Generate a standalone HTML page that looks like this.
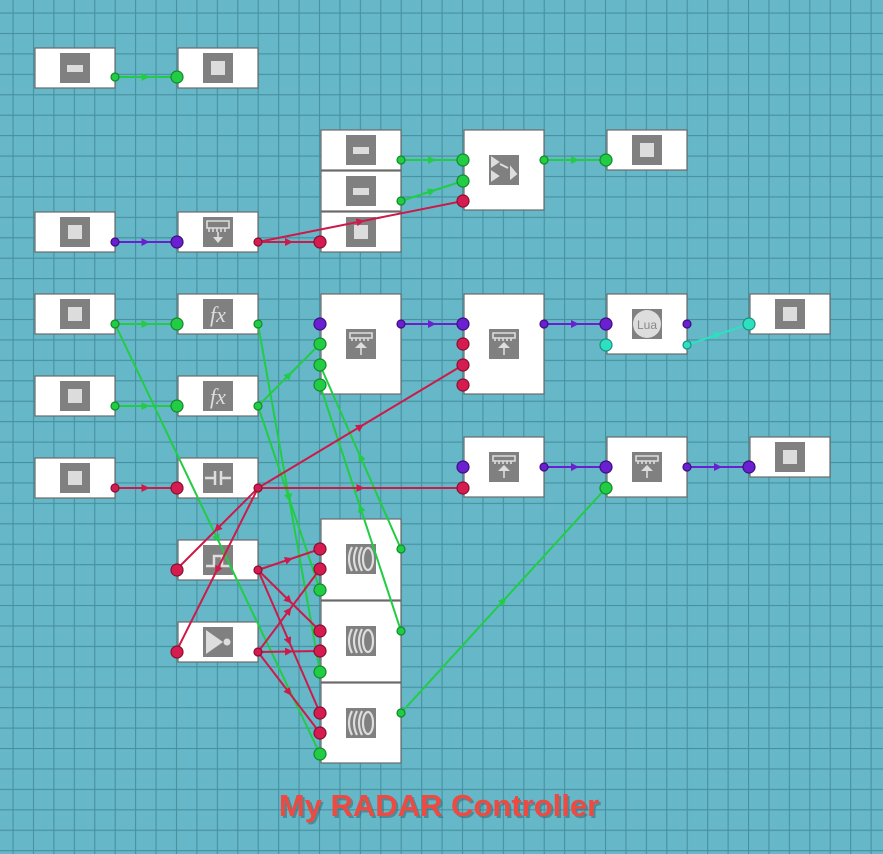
<!DOCTYPE html>
<html><head><meta charset="utf-8"><style>
html,body{margin:0;padding:0;width:883px;height:854px;overflow:hidden;background:#66b6c6}
svg{display:block}
.b{fill:#fff;stroke:#6a6a6a;stroke-width:1.2}
.ic{fill:#808080}
.lt{fill:#dcdcdc}
</style></head><body>
<svg width="883" height="854" xmlns="http://www.w3.org/2000/svg">
<defs>
<pattern id="g" x="12.5" y="12.5" width="20.43" height="20.43" patternUnits="userSpaceOnUse">
<path d="M0 0 H20.43 M0 0 V20.43" stroke="#4690a0" stroke-width="2.2" fill="none"/>
</pattern>
<marker id="mg" viewBox="0 0 10 10" refX="5" refY="5" markerWidth="4" markerHeight="4" orient="auto"><path d="M0 0 L10 5 L0 10z" fill="#22cc44"/></marker>
<marker id="mr" viewBox="0 0 10 10" refX="5" refY="5" markerWidth="4" markerHeight="4" orient="auto"><path d="M0 0 L10 5 L0 10z" fill="#cc1a4a"/></marker>
<marker id="mp" viewBox="0 0 10 10" refX="5" refY="5" markerWidth="4" markerHeight="4" orient="auto"><path d="M0 0 L10 5 L0 10z" fill="#6a1fd0"/></marker>
<marker id="mc" viewBox="0 0 10 10" refX="5" refY="5" markerWidth="4" markerHeight="4" orient="auto"><path d="M0 0 L10 5 L0 10z" fill="#2de0c0"/></marker>
</defs>
<rect width="883" height="854" fill="#66b8c8"/>
<rect width="883" height="854" fill="url(#g)"/>

<g>
<rect class="b" x="35" y="48" width="80" height="40"/>
<rect class="b" x="178" y="48" width="80" height="40"/>
<rect class="b" x="321" y="130" width="80" height="40"/>
<rect class="b" x="321" y="171" width="80" height="40"/>
<rect class="b" x="321" y="212" width="80" height="40"/>
<rect class="b" x="464" y="130" width="80" height="80"/>
<rect class="b" x="607" y="130" width="80" height="40"/>
<rect class="b" x="35" y="212" width="80" height="40"/>
<rect class="b" x="178" y="212" width="80" height="40"/>
<rect class="b" x="35" y="294" width="80" height="40"/>
<rect class="b" x="178" y="294" width="80" height="40"/>
<rect class="b" x="321" y="294" width="80" height="100"/>
<rect class="b" x="464" y="294" width="80" height="100"/>
<rect class="b" x="607" y="294" width="80" height="60"/>
<rect class="b" x="750" y="294" width="80" height="40"/>
<rect class="b" x="35" y="376" width="80" height="40"/>
<rect class="b" x="178" y="376" width="80" height="40"/>
<rect class="b" x="35" y="458" width="80" height="40"/>
<rect class="b" x="178" y="458" width="80" height="40"/>
<rect class="b" x="464" y="437" width="80" height="60"/>
<rect class="b" x="607" y="437" width="80" height="60"/>
<rect class="b" x="750" y="437" width="80" height="40"/>
<rect class="b" x="178" y="540" width="80" height="40"/>
<rect class="b" x="178" y="622" width="80" height="40"/>
<rect class="b" x="321" y="519" width="80" height="81"/>
<rect class="b" x="321" y="601" width="80" height="81"/>
<rect class="b" x="321" y="683" width="80" height="80"/>
</g>

<g>
<rect class="ic" x="60" y="53" width="30" height="30"/><rect class="lt" x="67" y="65" width="16" height="7"/>
<rect class="ic" x="346" y="135" width="30" height="30"/><rect class="lt" x="353" y="147" width="16" height="7"/>
<rect class="ic" x="346" y="176" width="30" height="30"/><rect class="lt" x="353" y="188" width="16" height="7"/>
<rect class="ic" x="203" y="53" width="30" height="30"/><rect class="lt" x="211" y="61" width="14" height="14"/>
<rect class="ic" x="346" y="217" width="30" height="30"/><rect class="lt" x="354" y="225" width="14" height="14"/>
<rect class="ic" x="632" y="135" width="30" height="30"/><rect class="lt" x="640" y="143" width="14" height="14"/>
<rect class="ic" x="60" y="217" width="30" height="30"/><rect class="lt" x="68" y="225" width="14" height="14"/>
<rect class="ic" x="60" y="299" width="30" height="30"/><rect class="lt" x="68" y="307" width="14" height="14"/>
<rect class="ic" x="60" y="381" width="30" height="30"/><rect class="lt" x="68" y="389" width="14" height="14"/>
<rect class="ic" x="60" y="463" width="30" height="30"/><rect class="lt" x="68" y="471" width="14" height="14"/>
<rect class="ic" x="775" y="299" width="30" height="30"/><rect class="lt" x="783" y="307" width="14" height="14"/>
<rect class="ic" x="775" y="442" width="30" height="30"/><rect class="lt" x="783" y="450" width="14" height="14"/>
<rect class="ic" x="489" y="155" width="30" height="30"/>
<path d="M492 158 L498 162 L492 166z M500 164 L508 168 M511 168 L516 174 L511 178z M492 172 L498 176 L492 180z" fill="#ddd" stroke="#ddd" stroke-width="2"/>
<rect class="ic" x="203" y="217" width="30" height="30"/>
<path d="M207 221 H229 V228 H207z M209 228 V232 M213 228 V232 M217 228 V232 M221 228 V232 M225 228 V232 M218 232 V240" stroke="#ddd" stroke-width="1.6" fill="none"/>
<path d="M213 237 L218 243 L223 237z" fill="#ddd"/>
<g id="mu">
<rect class="ic" x="346" y="329" width="30" height="30"/>
<path d="M350 333 H372 V338 H350z M352 338 V341 M356 338 V341 M360 338 V341 M364 338 V341 M368 338 V341 M361 346 V355" stroke="#ddd" stroke-width="1.6" fill="none"/>
<path d="M355 348 L361 342 L367 348z" fill="#ddd"/>
</g>
<use href="#mu" x="143" y="0"/>
<use href="#mu" x="143" y="123"/>
<use href="#mu" x="286" y="123"/>
<rect class="ic" x="203" y="299" width="30" height="30"/>
<text x="218" y="322" font-family="Liberation Serif,serif" font-style="italic" font-size="22" fill="#ddd" text-anchor="middle">fx</text>
<rect class="ic" x="203" y="381" width="30" height="30"/>
<text x="218" y="404" font-family="Liberation Serif,serif" font-style="italic" font-size="22" fill="#ddd" text-anchor="middle">fx</text>
<rect class="ic" x="203" y="463" width="30" height="30"/>
<path d="M205 478 H214 M222 478 H231 M215 471 V485 M221 471 V485" stroke="#ddd" stroke-width="2.5"/>
<rect class="ic" x="203" y="545" width="30" height="30"/>
<path d="M206 566 H214 V556 H222 V566 H230" stroke="#ddd" stroke-width="2.5" fill="none"/>
<rect class="ic" x="203" y="627" width="30" height="30"/>
<path d="M206 630 L223 642 L206 654z" fill="#ddd"/><circle cx="227" cy="642" r="3.5" fill="#ddd"/>
<rect class="ic" x="632" y="309" width="30" height="30"/>
<circle cx="647" cy="324" r="14" fill="#ddd"/>
<text x="647" y="329" font-family="Liberation Sans,sans-serif" font-size="12" fill="#888" text-anchor="middle">Lua</text>
<g id="rd">
<rect class="ic" x="346" y="544" width="30" height="30"/>
<path d="M352 547 Q346 559 352 571 M357 547 Q351 559 357 571 M362 547 Q356 559 362 571" stroke="#ddd" stroke-width="2.2" fill="none"/>
<ellipse cx="368" cy="559" rx="5" ry="11" stroke="#ddd" stroke-width="2.2" fill="none"/>
</g>
<use href="#rd" x="0" y="82"/>
<use href="#rd" x="0" y="164"/>
</g>

<g fill="none" stroke-width="2">
<g stroke="#22cc44" marker-mid="url(#mg)">
<path d="M115 77 L145.5 77 L176 77"/>
<path d="M401 160 L432 160 L463 160"/>
<path d="M401 201 L432 191 L463 181"/>
<path d="M544 160 L575 160 L606 160"/>
<path d="M115 324 L145.5 324 L176 324"/>
<path d="M115 406 L145.5 406 L176 406"/>
<path d="M258 406 L289 375 L320 344"/>
<path d="M258 324 L289 498 L320 672"/>
<path d="M258 406 L289 498 L320 590"/>
<path d="M115 324 L217.5 539 L320 754"/>
<path d="M401 549 L360.5 457 L320 365"/>
<path d="M401 631 L360.5 508 L320 385"/>
<path d="M401 713 L503.5 600.5 L606 488"/>
</g>
<g stroke="#cc1a4a" marker-mid="url(#mr)">
<path d="M258 242 L360.5 221.5 L463 201"/>
<path d="M258 242 L289 242 L320 242"/>
<path d="M115 488 L145.5 488 L176 488"/>
<path d="M258 488 L360.5 488 L463 488"/>
<path d="M258 488 L360.5 426.5 L463 365"/>
<path d="M258 488 L217 529 L176 570"/>
<path d="M258 488 L217 570 L176 652"/>
<path d="M258 570 L289 559.5 L320 549"/>
<path d="M258 570 L289 600.5 L320 631"/>
<path d="M258 570 L289 641.5 L320 713"/>
<path d="M258 652 L289 610.5 L320 569"/>
<path d="M258 652 L289 651.5 L320 651"/>
<path d="M258 652 L289 692.5 L320 733"/>
</g>
<g stroke="#6a1fd0" marker-mid="url(#mp)">
<path d="M115 242 L145.5 242 L176 242"/>
<path d="M401 324 L432 324 L463 324"/>
<path d="M544 324 L575 324 L606 324"/>
<path d="M544 467 L575 467 L606 467"/>
<path d="M687 467 L718 467 L749 467"/>
</g>
<path stroke="#2de0c0" marker-mid="url(#mc)" d="M687 345 L718 334.5 L749 324"/>
</g>

<g stroke-width="1.2">
<g fill="#22cc44" stroke="#118a2a">
<circle cx="115" cy="77" r="4"/><circle cx="177" cy="77" r="6"/>
<circle cx="401" cy="160" r="4"/><circle cx="401" cy="201" r="4"/>
<circle cx="463" cy="160" r="6"/><circle cx="463" cy="181" r="6"/>
<circle cx="544" cy="160" r="4"/><circle cx="606" cy="160" r="6"/>
<circle cx="115" cy="324" r="4"/><circle cx="177" cy="324" r="6"/>
<circle cx="115" cy="406" r="4"/><circle cx="177" cy="406" r="6"/>
<circle cx="258" cy="324" r="4"/><circle cx="258" cy="406" r="4"/>
<circle cx="320" cy="344" r="6"/><circle cx="320" cy="365" r="6"/><circle cx="320" cy="385" r="6"/>
<circle cx="320" cy="590" r="6"/><circle cx="320" cy="672" r="6"/><circle cx="320" cy="754" r="6"/>
<circle cx="401" cy="549" r="4"/><circle cx="401" cy="631" r="4"/><circle cx="401" cy="713" r="4"/>
<circle cx="606" cy="488" r="6"/>
</g>
<g fill="#d41c50" stroke="#8a0f30">
<circle cx="258" cy="242" r="4"/><circle cx="320" cy="242" r="6"/><circle cx="463" cy="201" r="6"/>
<circle cx="115" cy="488" r="4"/><circle cx="177" cy="488" r="6"/><circle cx="258" cy="488" r="4"/>
<circle cx="463" cy="344" r="6"/><circle cx="463" cy="365" r="6"/><circle cx="463" cy="385" r="6"/>
<circle cx="463" cy="488" r="6"/>
<circle cx="177" cy="570" r="6"/><circle cx="177" cy="652" r="6"/>
<circle cx="258" cy="570" r="4"/><circle cx="258" cy="652" r="4"/>
<circle cx="320" cy="549" r="6"/><circle cx="320" cy="569" r="6"/>
<circle cx="320" cy="631" r="6"/><circle cx="320" cy="651" r="6"/>
<circle cx="320" cy="713" r="6"/><circle cx="320" cy="733" r="6"/>
</g>
<g fill="#6a1fd0" stroke="#3d0f80">
<circle cx="115" cy="242" r="4"/><circle cx="177" cy="242" r="6"/>
<circle cx="320" cy="324" r="6"/><circle cx="401" cy="324" r="4"/>
<circle cx="463" cy="324" r="6"/><circle cx="544" cy="324" r="4"/>
<circle cx="606" cy="324" r="6"/><circle cx="687" cy="324" r="4"/>
<circle cx="463" cy="467" r="6"/><circle cx="544" cy="467" r="4"/>
<circle cx="606" cy="467" r="6"/><circle cx="687" cy="467" r="4"/>
<circle cx="749" cy="467" r="6"/>
</g>
<g fill="#2de0c0" stroke="#189080">
<circle cx="606" cy="345" r="6"/><circle cx="687" cy="345" r="4"/><circle cx="749" cy="324" r="6"/>
</g>
</g>

<text x="439" y="816" text-anchor="middle" font-family="Liberation Sans,sans-serif" font-weight="bold" font-size="31" fill="#3a6f7a" opacity="0.6" transform="translate(2,2)">My RADAR Controller</text>
<text x="439" y="816" text-anchor="middle" font-family="Liberation Sans,sans-serif" font-weight="bold" font-size="31" fill="#ee4a42">My RADAR Controller</text>
</svg>
</body></html>
